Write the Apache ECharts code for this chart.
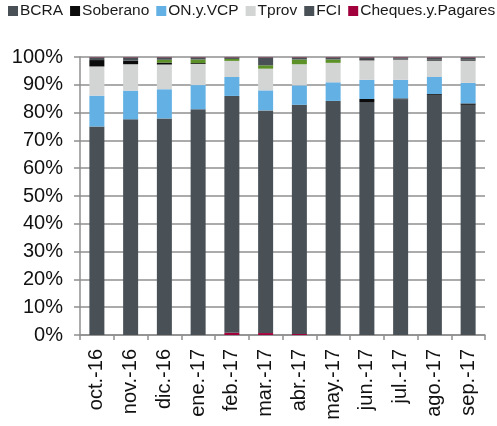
<!DOCTYPE html>
<html>
<head>
<meta charset="utf-8">
<script src="https://cdn.jsdelivr.net/npm/echarts@6/dist/echarts.min.js"></script>
<style>
  html, body { margin: 0; padding: 0; background: #ffffff; }
  #chart { width: 497px; height: 426px; }
</style>
</head>
<body>
<div id="chart"></div>
<script>
// Monthly composition of holdings (% of total), stacked bottom to top
const months = ['oct.-16', 'nov.-16', 'dic.-16', 'ene.-17', 'feb.-17', 'mar.-17',
                'abr.-17', 'may.-17', 'jun.-17', 'jul.-17', 'ago.-17', 'sep.-17'];

const cheques   = [0,    0,    0,    0,    0.8,  0.7,  0.4,  0,    0,    0,    0,    0];
const bcra      = [75.0, 77.6, 77.9, 81.2, 85.2, 80.1, 82.4, 84.2, 83.8, 84.8, 86.4, 82.8];
const soberano  = [0,    0,    0,    0,    0,    0,    0,    0,    1.1,  0.3,  0.3,  0.5];
const onVcp     = [11.1, 10.3, 10.5, 8.7,  6.8,  7.2,  7.0,  6.7,  6.9,  6.7,  6.1,  7.4];
const tprov     = [10.5, 9.5,  8.9,  7.6,  5.8,  7.8,  7.6,  7.0,  7.0,  7.3,  5.9,  8.0];
const letras    = [2.3,  1.3,  0.7,  0.3,  0,    0,    0,    0,    0.4,  0.3,  0.4,  0.4];
const otros     = [0,    0,    1.0,  1.3,  0.7,  1.2,  1.7,  1.2,  0,    0,    0,    0];
const fci       = [0.8,  1.0,  0.7,  0.6,  0.4,  2.7,  0.6,  0.6,  0.5,  0.3,  0.6,  0.6];
const resto     = [0.3,  0.3,  0.3,  0.3,  0.3,  0.3,  0.3,  0.3,  0.3,  0.3,  0.3,  0.3];

const yTicks = { min: 0, max: 100, interval: 10 };

const COLORS = {
  bcra: '#495157',
  soberano: '#0b0b0b',
  on: '#62b0e4',
  tprov: '#d3d4d4',
  fci: '#495157',
  cheques: '#a1003c',
  letras: '#0b0b0b',
  otros: '#5b9126',
  resto: '#7d4c61'
};

function bar(name, data, color) {
  return {
    name: name,
    type: 'bar',
    stack: 'total',
    barWidth: 15,
    data: data,
    itemStyle: { color: color },
    emphasis: { disabled: true }
  };
}

const chart = echarts.init(document.getElementById('chart'), null, { renderer: 'canvas' });

chart.setOption({
  animation: false,
  backgroundColor: '#ffffff',
  textStyle: { fontFamily: 'Liberation Sans, Arial, sans-serif' },
  legend: {
    data: ['BCRA', 'Soberano', 'ON.y.VCP', 'Tprov', 'FCI', 'Cheques.y.Pagares'],
    left: 8,
    top: 3,
    itemWidth: 10,
    itemHeight: 10,
    itemGap: 7,
    icon: 'rect',
    padding: 0,
    textStyle: {
      fontSize: 15.5,
      color: '#1a1a1a',
      fontFamily: 'Liberation Sans, Arial, sans-serif',
      padding: [0, 0, 0, -3]
    }
  },
  grid: {
    left: 80,
    right: 12,
    top: 57,
    bottom: 91,
    containLabel: false
  },
  xAxis: {
    type: 'category',
    data: months,
    axisLine: { show: true, lineStyle: { color: '#8f8f8f', width: 1.5 } },
    axisTick: { show: true, length: 5, lineStyle: { color: '#8f8f8f', width: 1.5 } },
    axisLabel: {
      rotate: 90,
      margin: 14,
      fontSize: 20,
      color: '#111111',
      fontFamily: 'Liberation Sans, Arial, sans-serif'
    },
    splitLine: { show: false }
  },
  yAxis: {
    type: 'value',
    min: yTicks.min,
    max: yTicks.max,
    interval: yTicks.interval,
    axisLine: { show: true, lineStyle: { color: '#8f8f8f', width: 1.5 } },
    axisTick: { show: true, length: 6, lineStyle: { color: '#8f8f8f', width: 1.5 } },
    axisLabel: {
      formatter: '{value}%',
      margin: 17,
      fontSize: 20,
      color: '#111111',
      fontFamily: 'Liberation Sans, Arial, sans-serif'
    },
    splitLine: { show: true, lineStyle: { color: '#8f8f8f', width: 1.5 } }
  },
  series: [
    bar('Cheques.y.Pagares', cheques, COLORS.cheques),
    bar('BCRA', bcra, COLORS.bcra),
    bar('Soberano', soberano, COLORS.soberano),
    bar('ON.y.VCP', onVcp, COLORS.on),
    bar('Tprov', tprov, COLORS.tprov),
    bar('Letras', letras, COLORS.letras),
    bar('Otros', otros, COLORS.otros),
    bar('FCI', fci, COLORS.fci),
    bar('Resto', resto, COLORS.resto)
  ]
});
</script>
</body>
</html>
